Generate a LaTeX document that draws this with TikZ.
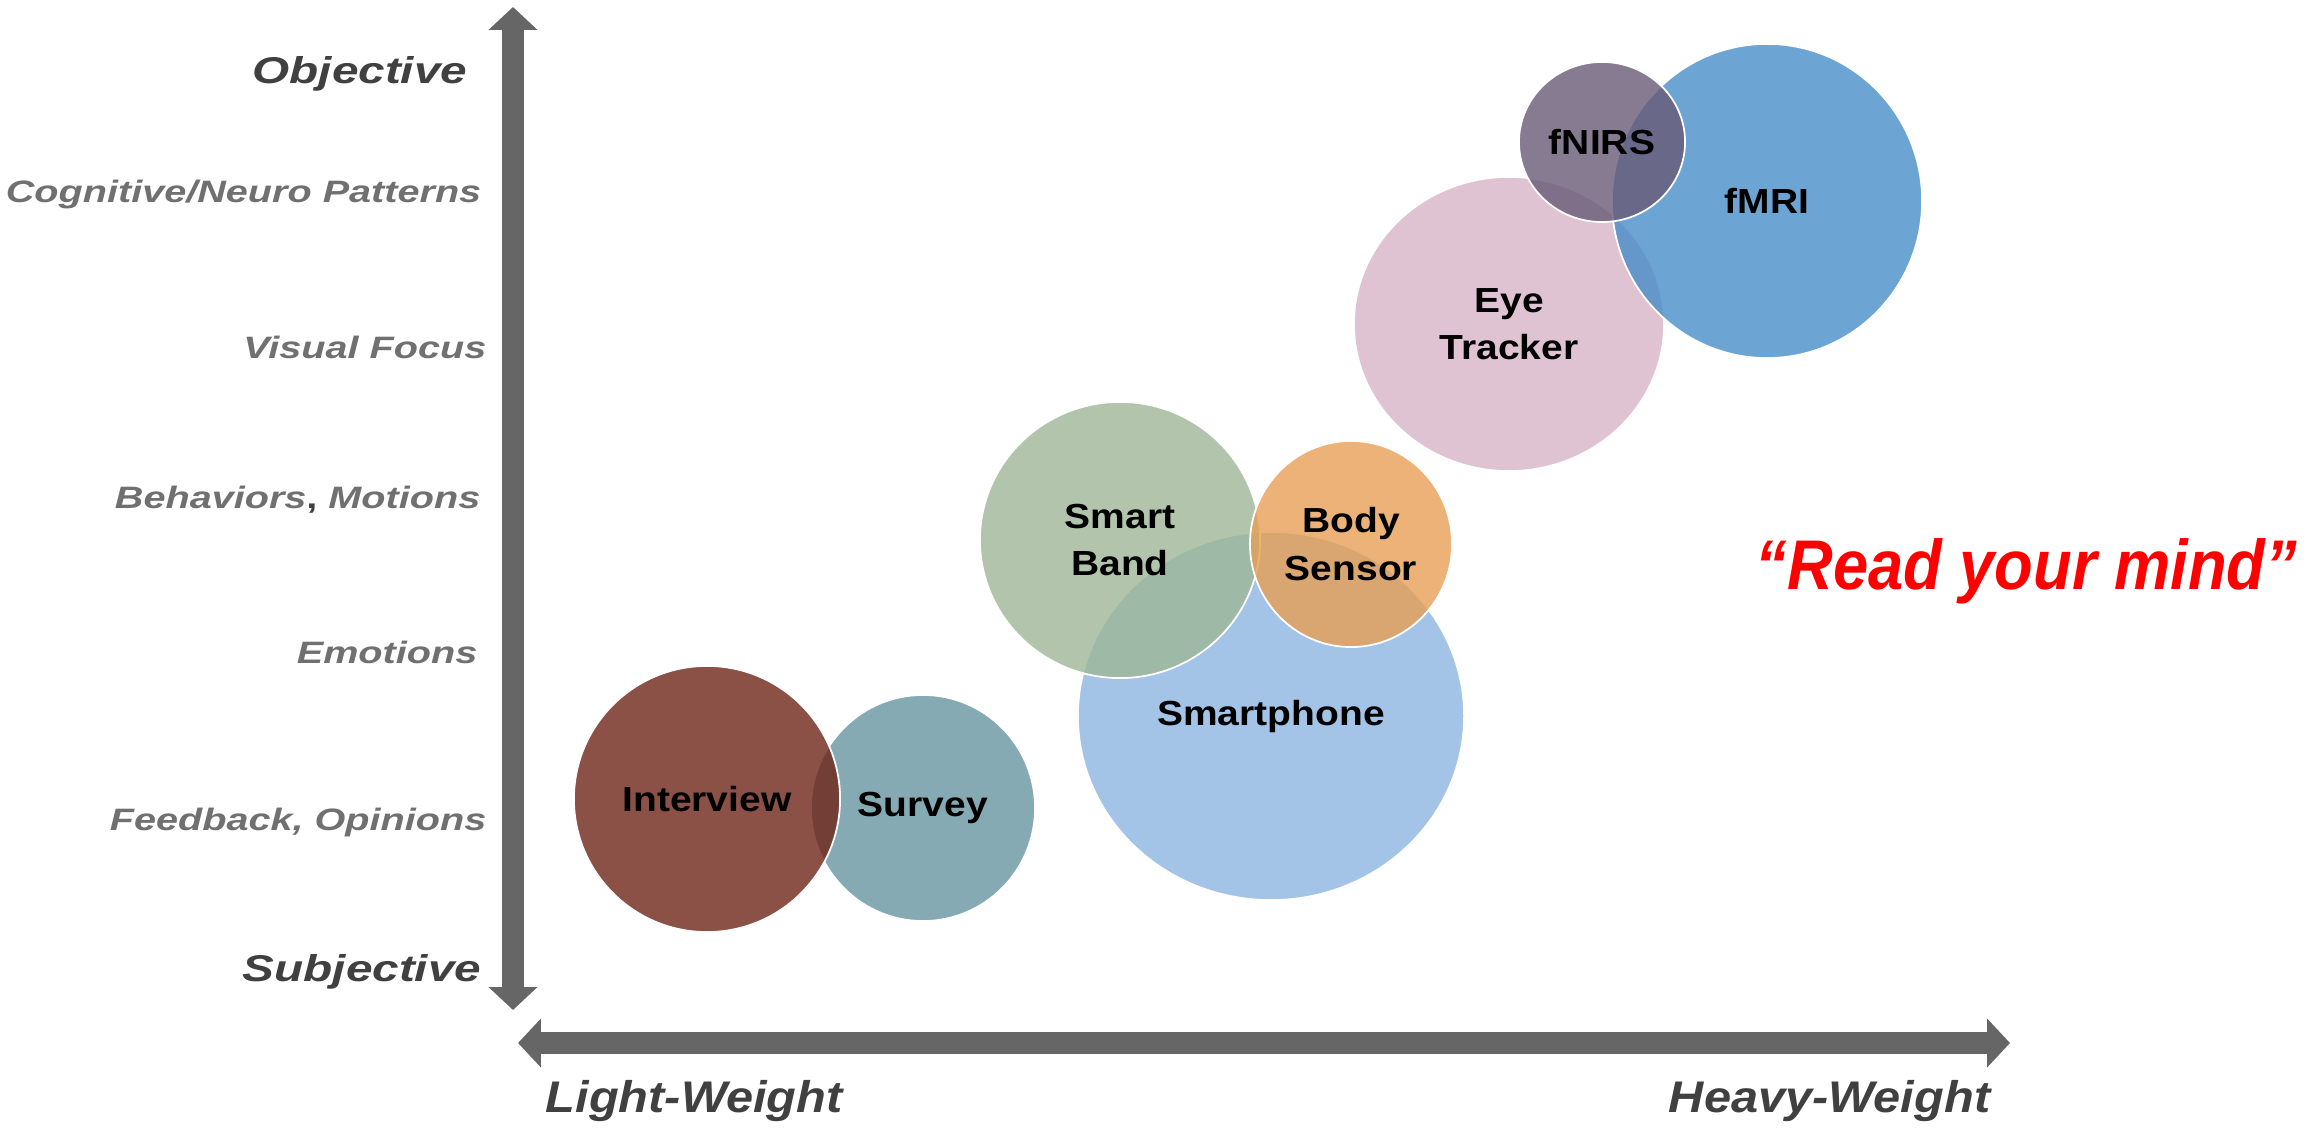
\documentclass[tikz,border=0pt]{standalone}
\usepackage{fontspec}
\usepackage{xcolor}
\usepackage{tikz}
\usetikzlibrary{arrows.meta,shapes.geometric,positioning}

\setmainfont{Liberation Sans}
\newfontfamily\scalefont[FakeStretch=1.28]{Liberation Sans}
\newfontfamily\weightfont[FakeStretch=1.1]{Liberation Sans}
\newfontfamily\bubblefont[FakeStretch=1.12]{Liberation Sans}
\newfontfamily\mindfont[FakeStretch=0.9]{Liberation Sans}

% axis and label greys
\definecolor{axisgray}{RGB}{102,102,102}
\definecolor{endtext}{RGB}{64,64,64}
\definecolor{midtext}{RGB}{112,112,112}
% bubble fills (used at 80% opacity)
\definecolor{interviewc}{RGB}{110,36,24}
\definecolor{surveyc}{RGB}{104,149,160}
\definecolor{bandc}{RGB}{159,183,151}
\definecolor{phonec}{RGB}{140,181,225}
\definecolor{sensorc}{RGB}{231,159,85}
\definecolor{eyec}{RGB}{216,180,200}
\definecolor{fmric}{RGB}{71,141,201}
\definecolor{fnirsc}{RGB}{105,90,119}

\begin{document}
\begin{tikzpicture}[x=0.01cm, y=-0.01cm]

  % ===== Styles =====
  \tikzset{
    axis/.style={line width=6pt, draw=axisgray,
      {Triangle[length=6.5pt,width=13.5pt]}-{Triangle[length=6.5pt,width=13.5pt]}},
    bubble/.style={ellipse, draw=white, line width=0.5pt, fill opacity=0.8, text opacity=1,
      inner sep=0pt, align=center, text=black,
      font=\bubblefont\bfseries\fontsize{9.9}{13.5}\selectfont},
    endlabel/.style={anchor=base east, inner sep=0pt, text=endtext,
      font=\scalefont\bfseries\itshape\fontsize{10.6}{12}\selectfont},
    levellabel/.style={anchor=base east, inner sep=0pt, text=midtext,
      font=\scalefont\bfseries\itshape\fontsize{8.8}{10}\selectfont},
    weightlabel/.style={inner sep=0pt, text=endtext,
      font=\weightfont\bfseries\itshape\fontsize{12.6}{14}\selectfont}
  }

  \useasboundingbox (0,0) rectangle (2319,1131);

  % ===== Axes =====
  \coordinate (ytop) at (513,7);
  \coordinate (ybot) at (513,1010);
  \coordinate (xleft) at (518,1043);
  \coordinate (xright) at (2010,1043);
  \draw[axis] (ybot) -- (ytop);
  \draw[axis] (xleft) -- (xright);

  % ===== Vertical scale =====
  \node[endlabel] (obj) at (468,84) {Objective};
  \node[levellabel] (cog) at (482,203) {Cognitive/Neuro Patterns};
  \node[levellabel] (vis) at (487,359) {Visual Focus};
  \node[levellabel] (beh) at (481,509) {Behaviors{\upshape\color{endtext},} Motions};
  \node[levellabel] (emo) at (478,663) {Emotions};
  \node[levellabel] (feed) at (487,830) {Feedback, Opinions};
  \node[endlabel] (subj) at (482,981) {Subjective};

  % ===== Horizontal scale =====
  \node[weightlabel, anchor=base west] (light) at (545,1112) {Light-Weight};
  \node[weightlabel, anchor=base east] (heavy) at (1991,1112) {Heavy-Weight};

  % ===== Bubbles (back to front) =====
  \node[bubble, fill=surveyc, minimum width=2.24cm, minimum height=2.26cm] (survey) at (923,808) {Survey};
  \node[bubble, fill=interviewc, minimum width=2.66cm, minimum height=2.66cm] (interview) at (707,799) {Interview};

  \node[bubble, fill=phonec, minimum width=3.86cm, minimum height=3.68cm] (phone) at (1271,716) {Smartphone};
  \node[bubble, fill=bandc, minimum width=2.80cm, minimum height=2.76cm] (band) at (1120,540) {Smart\\Band};
  \node[bubble, fill=sensorc, minimum width=2.02cm, minimum height=2.06cm] (sensor) at (1351,544) {Body\\Sensor};

  \node[bubble, fill=eyec, minimum width=3.10cm, minimum height=2.94cm] (eye) at (1509,324) {Eye\\Tracker};
  \node[bubble, fill=fmric, minimum width=3.10cm, minimum height=3.14cm] (fmri) at (1767,201) {fMRI};
  \node[bubble, fill=fnirsc, minimum width=1.66cm, minimum height=1.60cm] (fnirs) at (1602,142) {fNIRS};

  % ===== Slogan =====
  \node[anchor=base west, inner sep=0pt, text=red,
    font=\mindfont\bfseries\itshape\fontsize{20}{24}\selectfont] (mind) at (1755,590) {“Read your mind”};

\end{tikzpicture}
\end{document}
